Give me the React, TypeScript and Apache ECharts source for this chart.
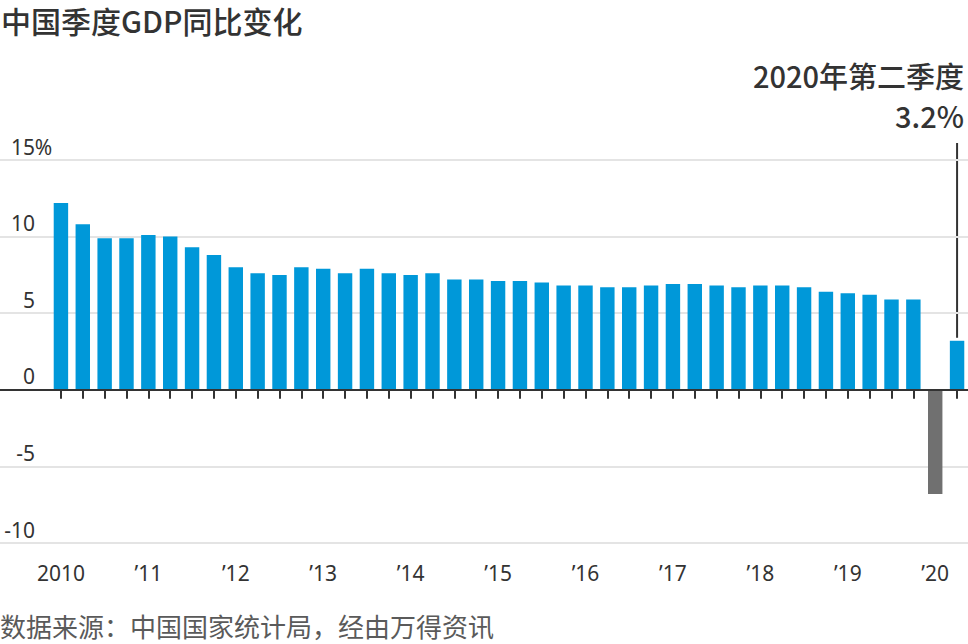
import React, { useEffect, useRef } from "react";
import * as echarts from "echarts";

const quarters = [
  "2010Q1", "2010Q2", "2010Q3", "2010Q4",
  "2011Q1", "2011Q2", "2011Q3", "2011Q4",
  "2012Q1", "2012Q2", "2012Q3", "2012Q4",
  "2013Q1", "2013Q2", "2013Q3", "2013Q4",
  "2014Q1", "2014Q2", "2014Q3", "2014Q4",
  "2015Q1", "2015Q2", "2015Q3", "2015Q4",
  "2016Q1", "2016Q2", "2016Q3", "2016Q4",
  "2017Q1", "2017Q2", "2017Q3", "2017Q4",
  "2018Q1", "2018Q2", "2018Q3", "2018Q4",
  "2019Q1", "2019Q2", "2019Q3", "2019Q4",
  "2020Q1", "2020Q2",
];

const growth = [
  12.2, 10.8, 9.9, 9.9,
  10.1, 10.0, 9.3, 8.8,
  8.0, 7.6, 7.5, 8.0,
  7.9, 7.6, 7.9, 7.6,
  7.5, 7.6, 7.2, 7.2,
  7.1, 7.1, 7.0, 6.8,
  6.8, 6.7, 6.7, 6.8,
  6.9, 6.9, 6.8, 6.7,
  6.8, 6.8, 6.7, 6.4,
  6.3, 6.2, 5.9, 5.9,
  -6.8, 3.2,
];

const yearLabels = ["2010", "’11", "’12", "’13", "’14", "’15", "’16", "’17", "’18", "’19", "’20"];

const titleText = "中国季度GDP同比变化";
const sourceText = "数据来源：中国国家统计局，经由万得资讯";
const noteTitle = "2020年第二季度";
const noteValue = "3.2%";

const BLUE = "#0098d9";
const GRAY = "#707070";
const DARK = "#333333";
const FONT = "'Noto Sans CJK SC', 'Noto Sans', sans-serif";
const NUM_FONT = "'Noto Sans', 'Open Sans', sans-serif";

export default function App() {
  const ref = useRef<HTMLDivElement>(null);

  useEffect(() => {
    document.body.style.margin = "0";
    if (!ref.current) return;
    const chart = echarts.init(ref.current, null, { renderer: "svg" });

    const option: any = {
      animation: false,
      textStyle: { fontFamily: FONT },
      grid: [
        { left: 50, right: 0, top: 160, bottom: 101 },
        { left: 0, right: 0, top: 160, bottom: 101 },
      ],
      xAxis: [
        {
          gridIndex: 0,
          type: "category",
          data: quarters,
          axisLine: { show: false },
          axisTick: {
            show: true,
            alignWithLabel: true,
            interval: 0,
            length: 9,
            lineStyle: { color: DARK, width: 2 },
          },
          axisLabel: {
            interval: 0,
            margin: 19,
            color: DARK,
            fontSize: 21,
            fontFamily: NUM_FONT,
            formatter: (_v: string, i: number) => (i % 4 === 0 ? yearLabels[i / 4] : ""),
          },
        },
        {
          gridIndex: 1,
          type: "value",
          min: 0,
          max: 1,
          z: 5,
          axisLine: { show: true, onZero: true, lineStyle: { color: DARK, width: 2 } },
          axisTick: { show: false },
          axisLabel: { show: false },
          splitLine: { show: false },
        },
      ],
      yAxis: [
        { gridIndex: 0, type: "value", min: -10, max: 15, interval: 5, show: false },
        {
          gridIndex: 1,
          type: "value",
          min: -10,
          max: 15,
          interval: 5,
          axisLine: { show: false },
          axisTick: { show: false },
          splitLine: { show: true, lineStyle: { color: "#e4e4e4", width: 2 } },
          axisLabel: {
            inside: true,
            align: "right",
            verticalAlign: "bottom",
            margin: 52,
            padding: [0, 0, 3, 0],
            formatter: (v: number) => (v === 15 ? `{n|${v}}{p|%}` : `{n|${v}}{p| }`),
            rich: {
              n: { fontSize: 21, color: DARK, fontFamily: NUM_FONT },
              p: { fontSize: 21, color: DARK, fontFamily: NUM_FONT, width: 17, align: "left" },
            },
          },
        },
      ],
      series: [
        {
          type: "bar",
          xAxisIndex: 0,
          yAxisIndex: 0,
          barWidth: "66%",
          data: growth.map((v) => ({ value: v, itemStyle: { color: v < 0 ? GRAY : BLUE } })),
        },
      ],
      graphic: [
        {
          type: "text",
          left: 1,
          top: 5,
          style: { text: titleText, fontSize: 30, fontWeight: 500, fill: DARK, fontFamily: FONT },
        },
        {
          type: "text",
          left: 0,
          top: 612,
          style: { text: sourceText, fontSize: 26, fill: "#5a5a5a", fontFamily: FONT },
        },
        {
          type: "text",
          right: 4,
          top: 60,
          style: { text: noteTitle, fontSize: 29, fontWeight: 500, fill: DARK, fontFamily: FONT },
        },
        {
          type: "text",
          right: 4,
          top: 100,
          style: { text: noteValue, fontSize: 29, fontWeight: 500, fill: DARK, fontFamily: FONT },
        },
      ],
    };
    chart.setOption(option);

    const last = growth.length - 1;
    const pt = chart.convertToPixel({ xAxisIndex: 0, yAxisIndex: 0 }, [last, growth[last]]);
    if (pt) {
      chart.setOption({
        graphic: [
          ...option.graphic,
          {
            type: "line",
            shape: { x1: pt[0], y1: 143, x2: pt[0], y2: pt[1] - 3 },
            style: { stroke: DARK, lineWidth: 2 },
          },
        ],
      });
    }

    return () => chart.dispose();
  }, []);

  return <div ref={ref} style={{ width: 968, height: 644 }} />;
}
